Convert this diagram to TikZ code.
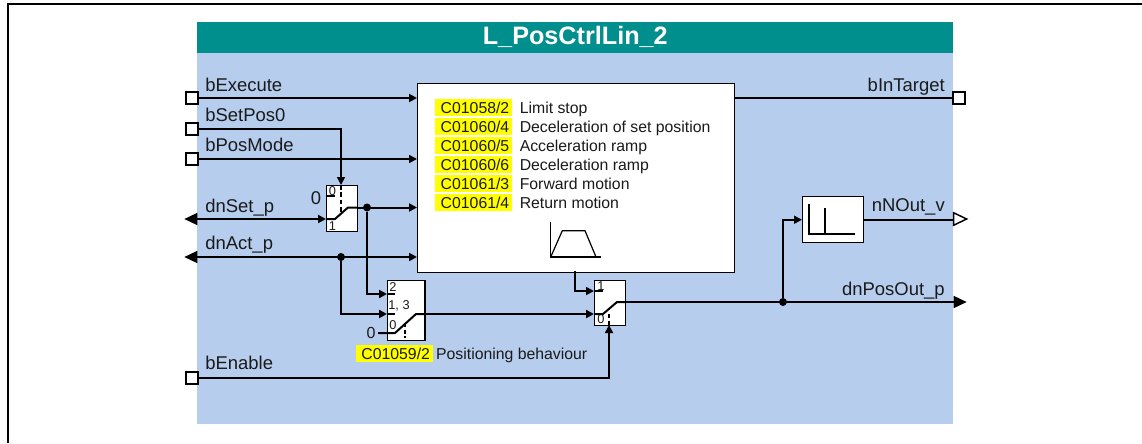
\documentclass[tikz,border=0pt]{standalone}
\usepackage{fontspec}
\setmainfont{Liberation Sans}
\usetikzlibrary{shapes.geometric, arrows.meta, positioning, calc}
\definecolor{panelblue}{HTML}{B7CDEE}
\definecolor{titleteal}{HTML}{008F8C}
\definecolor{codeyellow}{HTML}{FFFF00}
\definecolor{inktext}{HTML}{1A1A1A}
\tikzset{
  sig/.style={->, >={Triangle[length=6pt, width=6pt]}, black, line width=1.5pt},
  sigbool/.style={->, >={Triangle[length=6pt, width=6pt]}, black, line width=1.25pt},
  sigthin/.style={black, line width=1.15pt},
  sigline/.style={black, line width=1.5pt},
  contact/.style={black, line width=.9pt},
  portbox/.style={
    draw=black, fill=white, line width=1.25pt,
    minimum size=8.6pt, inner sep=0pt,
  },
  porttri/.style={
    isosceles triangle, isosceles triangle stretches,
    minimum height=9.8pt, minimum width=9.4pt, inner sep=0pt,
    line width=1.1pt,
  },
  switchbox/.style={
    draw=black, fill=white, line width=1.1pt,
    inner sep=0pt,
  },
  dot/.style={circle, fill=black, minimum size=6pt, inner sep=0pt},
  siglabel/.style={font=\fontsize{13.85}{16}\selectfont, text=inktext, inner sep=0pt},
  codebox/.style={
    fill=codeyellow, text=inktext,
    font=\fontsize{11.85}{14}\selectfont,
    text width=53.25pt, align=right,
    text height=10pt, text depth=1.1pt,
    inner xsep=2.25pt, inner ysep=.7pt,
  },
  codetext/.style={
    text=inktext, font=\fontsize{11.85}{14}\selectfont,
    text height=10pt, text depth=1.1pt,
    inner sep=0pt,
  },
  smallnum/.style={font=\fontsize{9.6}{11}\selectfont, text=inktext, inner sep=0pt},
}
\begin{document}
\begin{tikzpicture}[x=.75pt, y=-.75pt]
  \useasboundingbox (0,0) rectangle (1142,443);

  % Outer frame
  \coordinate (frameb) at (8,443);
  \coordinate (framec) at (8,4);
  \coordinate (framer) at (1142,4);
  \draw[black, line width=1.5pt] (frameb) -- (framec) -- (framer);

  % Panel
  \node[fill=panelblue, minimum width=567pt, minimum height=278.25pt,
        inner sep=0pt, anchor=north west] (panel) at (197,53) {};
  \node[fill=titleteal, minimum width=567pt, minimum height=23.25pt,
        inner sep=0pt, text=white, font=\fontsize{18.9}{22}\selectfont\bfseries,
        above=0pt of panel] (title) {L\_PosCtrlLin\_2};

  % Main block
  \node[draw=black, fill=white, line width=1.1pt, minimum width=237.75pt,
        minimum height=141.75pt, inner sep=0pt, anchor=north west] (ctrl) at (417,83) {};

  % Ports on the left
  \node[portbox] (bexec) at (192,98) {};
  \node[portbox] (bset) at (192,129) {};
  \node[portbox] (bmode) at (192,159) {};
  \node[porttri, fill=black, shape border rotate=180] (dnset) at (193.5,219) {};
  \node[porttri, fill=black, shape border rotate=180] (dnact) at (193.5,257) {};
  \node[portbox] (benable) at (192,378) {};

  % Ports on the right
  \node[portbox] (btarget) at (959,98) {};
  \node[porttri, draw=black, fill=white] (nout) at (957.5,219) {};
  \node[porttri, fill=black] (posout) at (957.5,302) {};

  % Port labels
  \node[siglabel, anchor=base west] (lexec) at (205,91) {bExecute};
  \node[siglabel, anchor=base west] (lset) at (205,121) {bSetPos0};
  \node[siglabel, anchor=base west] (lmode) at (205,151) {bPosMode};
  \node[siglabel, anchor=base west] (ldnset) at (205,212.5) {dnSet\_p};
  \node[siglabel, anchor=base west] (ldnact) at (205,249) {dnAct\_p};
  \node[siglabel, anchor=base west] (lenable) at (205,369) {bEnable};
  \node[siglabel, anchor=base east] (ltarget) at (945,91) {bInTarget};
  \node[siglabel, anchor=base east] (lnout) at (945,211.5) {nNOut\_v};
  \node[siglabel, anchor=base east] (lposout) at (945,295) {dnPosOut\_p};

  % Parameter list
  \node[codebox, anchor=north west] (c1) at (435,99) {C01058/2};
  \node[codebox, below=1.3pt of c1] (c2) {C01060/4};
  \node[codebox, below=1.3pt of c2] (c3) {C01060/5};
  \node[codebox, below=1.3pt of c3] (c4) {C01060/6};
  \node[codebox, below=1.3pt of c4] (c5) {C01061/3};
  \node[codebox, below=1.3pt of c5] (c6) {C01061/4};
  \node[codetext, right=5.25pt of c1] {Limit stop};
  \node[codetext, right=5.25pt of c2] {Deceleration of set position};
  \node[codetext, right=5.25pt of c3] {Acceleration ramp};
  \node[codetext, right=5.25pt of c4] {Deceleration ramp};
  \node[codetext, right=5.25pt of c5] {Forward motion};
  \node[codetext, right=5.25pt of c6] {Return motion};

  % Ramp symbol
  \coordinate (rampo) at (550.7,257);
  \draw[contact] (550.7,222) -- (rampo) -- (600.7,257);
  \draw[contact] (rampo) -- (562.3,230.7) -- (585,230.7) -- (596,257);

  % Switches
  \node[switchbox, minimum width=22.9pt, minimum height=34.5pt, anchor=north west] (sw1) at (326,185) {};
  \node[switchbox, minimum width=28.1pt, minimum height=45pt, anchor=north west] (sw2) at (387,280) {};
  \node[switchbox, minimum width=22.9pt, minimum height=33.75pt, anchor=north west] (sw3) at (594,280) {};
  \node[switchbox, minimum width=45.75pt, minimum height=34.5pt, anchor=north west] (lim) at (802,196) {};

  % Switch 1 inside
  \node[smallnum] (s1a) at (332.5,191.5) {0};
  \node[smallnum] (s1b) at (332.5,226) {1};
  \node[siglabel] (s1z) at (316,198) {0};
  \coordinate (s1in) at (335,219);
  \coordinate (s1out) at (348,207.5);
  \draw[contact] (sw1.west |- 0,196) -- (335,196);
  \draw[sigline] (sw1.west |- s1in) -- (s1in) -- (s1out) -- (sw1.east |- s1out);
  \draw[sigline, dash pattern=on 3.5pt off 2pt] (341,185) -- (341,213);

  % Switch 2 inside
  \node[smallnum] (s2a) at (393,287) {2};
  \node[smallnum] (s2b) at (399,306) {1, 3};
  \node[smallnum] (s2c) at (393,325) {0};
  \node[siglabel, font=\fontsize{12}{14}\selectfont] (s2z) at (371,332.5) {0};
  \coordinate (s2in) at (395,333);
  \coordinate (s2out) at (416,314);
  \draw[contact] (sw2.west |- 0,294) -- (395,294);
  \draw[contact] (sw2.west |- 0,314) -- (395,314);
  \draw[sigline] (378,333) -- (s2in) -- (s2out) -- (sw2.east |- s2out);
  \draw[sigline, dash pattern=on 3pt off 2pt] (405,323) -- (405,338);

  % Switch 3 inside
  \node[smallnum] (s3a) at (601,286) {1};
  \node[smallnum] (s3b) at (601,319.5) {0};
  \coordinate (s3in) at (603,314);
  \coordinate (s3out) at (617,302);
  \draw[contact] (sw3.west |- 0,291) -- (603,291);
  \draw[sigline] (sw3.west |- s3in) -- (s3in) -- (s3out) -- (sw3.east |- s3out);
  \draw[sigline, dash pattern=on 3pt off 2pt] (609,314) -- (609,325);

  % Limiter symbol
  \draw[contact] (809,204) -- (809,234) -- (855,234);
  \draw[sigthin] (825,208) -- (825,234);

  % Signals: inputs to main block
  \draw[sig] (bexec.east) -- (bexec.east -| ctrl.west);
  \draw[sigbool] (bmode.east) -- (bmode.east -| ctrl.west);
  \draw[sig] (dnact.center) -- (dnact.center -| ctrl.west);

  % Signals: bSetPos0 into switch 1
  \draw[sigbool] (bset.east) -| (341,185);

  % Signals: dnSet_p through switch 1
  \draw[sig] (dnset.center) -- (sw1.west |- dnset);
  \node[dot] (jset) at (367,207.5) {};
  \draw[sig] (sw1.east |- s1out) -- (s1out -| ctrl.west);

  % Signals: into switch 2
  \draw[sig] (jset) |- (sw2.west |- 0,294);
  \node[dot] (jact) at (341,257) {};
  \draw[sig] (jact) |- (sw2.west |- 0,314);

  % Signals: switch 2 to switch 3
  \draw[sig] (sw2.east |- s2out) -- (sw3.west |- s2out);

  % Signals: main block to switch 3
  \draw[sigbool] (575,271) |- (sw3.west |- 0,291);

  % Signals: bEnable
  \draw[sigbool] (benable.east) -| (609,325);

  % Signals: outputs
  \draw[sigthin] (ctrl.east |- btarget) -- (btarget.west);
  \draw[sigthin] (sw3.east |- s3out) -- (posout.center);
  \node[dot] (jpos) at (783,302) {};
  \draw[sigbool] (jpos) |- (lim.west);
  \draw[sigthin] (lim.east) -- (lim.east -| nout.west);

  % Positioning behaviour
  \node[codebox, anchor=north west] (c7) at (355.7,345) {C01059/2};
  \node[codetext, right=2pt of c7] {Positioning behaviour};

\end{tikzpicture}
\end{document}
